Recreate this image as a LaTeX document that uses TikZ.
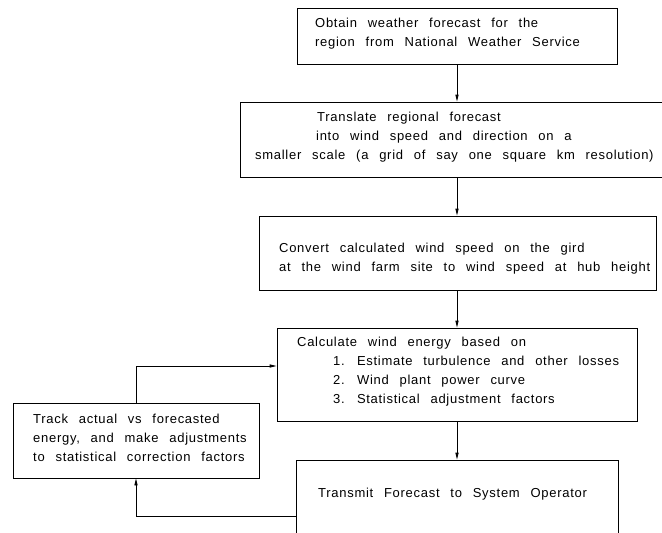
\documentclass[tikz,border=0pt]{standalone}
\usepackage{fontspec}
\newfontfamily\cadfont[LetterSpace=5.5,WordSpace=2.5]{Liberation Sans}
\usetikzlibrary{arrows.meta}
\begin{document}
\begin{tikzpicture}[x=1pt,y=-1pt,
  box/.style={draw, line width=0.9pt, rectangle, inner sep=0pt, anchor=center},
  txt/.style={font=\cadfont\fontsize{13}{19}\selectfont, align=left, inner sep=0pt, anchor=west},
  arr/.style={draw, line width=0.9pt, -{Triangle[length=7pt,width=3.2pt]}}]
\useasboundingbox (0,0) rectangle (662,533);
% boxes
\node[box, minimum width=320pt, minimum height=56pt] (b1) at (457,36) {};
\node[box, minimum width=450pt, minimum height=75pt] (b2) at (465,139.5) {};
\node[box, minimum width=397pt, minimum height=74pt] (b3) at (457.5,253) {};
\node[box, minimum width=360pt, minimum height=93pt] (b4) at (457,374.5) {};
\node[box, minimum width=322pt, minimum height=112pt] (b5) at (457,516) {};
\node[box, minimum width=246pt, minimum height=75pt] (b6) at (136,440.5) {};
% texts
\node[txt] (t1) at (315,33.5) {Obtain weather forecast for the\\region from National Weather Service};
\node[txt] (t2) at (255,137) {\hspace*{62pt}Translate regional forecast\\\hspace*{61pt}into wind speed and direction on a\\smaller scale (a grid of say one square km resolution)};
\node[txt] (t3) at (279,259) {Convert calculated wind speed on the gird\\at the wind farm site to wind speed at hub height};
\node[txt] (t4) at (297,372) {Calculate wind energy based on\\\hspace*{36pt}1. Estimate turbulence and other losses\\\hspace*{36pt}2. Wind plant power curve\\\hspace*{36pt}3. Statistical adjustment factors};
\node[txt] (t5) at (318,494) {Transmit Forecast to System Operator};
\node[txt] (t6) at (33,437.5) {Track actual vs forecasted\\energy, and make adjustments\\to statistical correction factors};
% connectors
\draw[arr] (b1.south) -- (b1.south |- b2.north);
\draw[arr] (b1.south |- b2.south) -- (b1.south |- b3.north);
\draw[arr] (b3.south -| b1.south) -- (b1.south |- b4.north);
\draw[arr] (b4.south) -- (b4.south |- b5.north);
\coordinate (k1) at (136,366);
\draw[arr] (b6.north) -- (k1) -- (k1 -| b4.west);
\draw[arr] (b5.west) -- (b5.west -| b6.south) -- (b6.south);
\end{tikzpicture}
\end{document}
